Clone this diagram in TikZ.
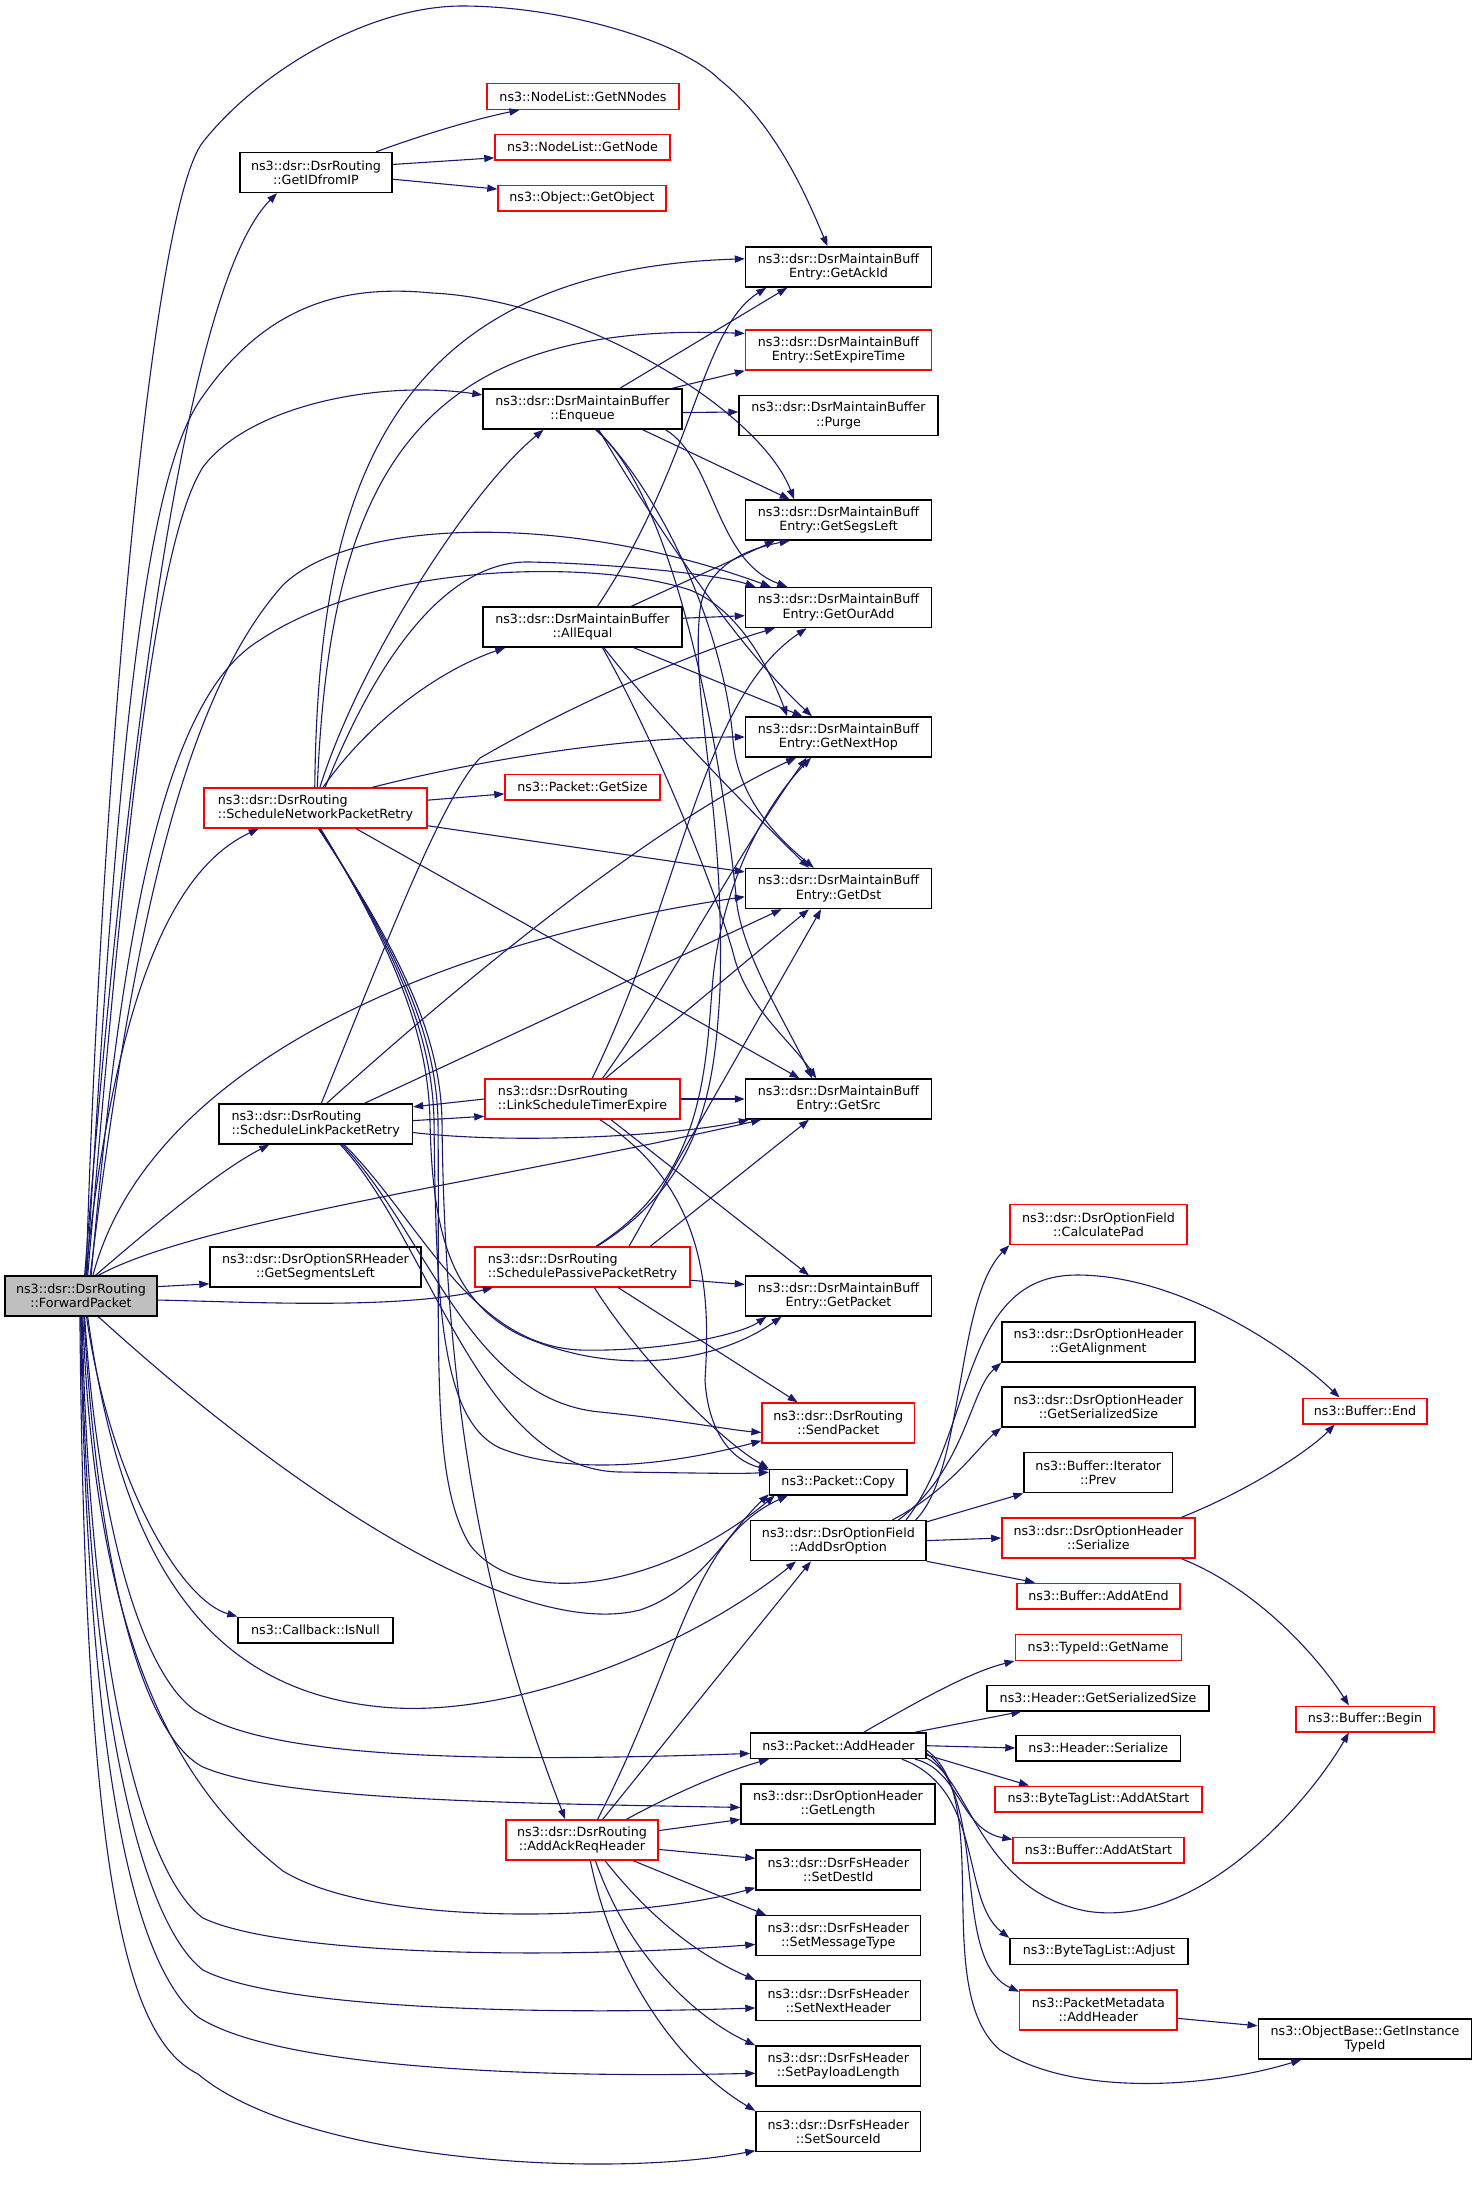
\documentclass[tikz,border=0pt]{standalone}
\usepackage{fontspec}
\setmainfont{DejaVu Sans}
\usetikzlibrary{arrows.meta}
\definecolor{callblue}{HTML}{191970}
\definecolor{rootgray}{HTML}{BFBFBF}
\definecolor{linkred}{HTML}{FF0000}
\tikzset{
  fn/.style={rectangle, draw=black, line width=0.7pt, inner sep=1pt, minimum height=20pt, align=center, font=\fontsize{6.35}{7.1}\selectfont},
  fnone/.style={fn, minimum height=12.8pt},
  fnred/.style={fn, draw=linkred},
  fnonered/.style={fnone, draw=linkred},
  fnroot/.style={fn, fill=rootgray},
  call/.style={draw=callblue, line width=0.55pt, -{Triangle[length=5pt,width=3.6pt]}}
}
\begin{document}
\begin{tikzpicture}[x=0.5pt,y=-0.5pt]
\path[use as bounding box, fill=white] (0,0) rectangle (1477,2186);

\node[fnroot, minimum width=76pt] (fwd) at (81,1296) {ns3::dsr::DsrRouting\\::ForwardPacket};
\node[fn, minimum width=76pt] (getid) at (316,172.5) {ns3::dsr::DsrRouting\\::GetIDfromIP};
\node[fnonered, minimum width=96pt] (getnnodes) at (583,96.5) {ns3::NodeList::GetNNodes};
\node[fnonered, minimum width=87.5pt] (getnode) at (582.5,147) {ns3::NodeList::GetNode};
\node[fnonered, minimum width=84pt] (getobject) at (582,198) {ns3::Object::GetObject};
\node[fn, minimum width=93pt] (getackid) at (838.5,267) {ns3::dsr::DsrMaintainBuff\\Entry::GetAckId};
\node[fnred, minimum width=93pt] (setexpire) at (838.5,350) {ns3::dsr::DsrMaintainBuff\\Entry::SetExpireTime};
\node[fn, minimum width=99.5pt] (enqueue) at (582.5,409) {ns3::dsr::DsrMaintainBuffer\\::Enqueue};
\node[fn, minimum width=99.5pt] (purge) at (838.5,415.5) {ns3::dsr::DsrMaintainBuffer\\::Purge};
\node[fn, minimum width=93pt] (getsegs) at (838.5,520) {ns3::dsr::DsrMaintainBuff\\Entry::GetSegsLeft};
\node[fn, minimum width=99.5pt] (allequal) at (582.5,627) {ns3::dsr::DsrMaintainBuffer\\::AllEqual};
\node[fn, minimum width=93pt] (getouradd) at (838.5,607.5) {ns3::dsr::DsrMaintainBuff\\Entry::GetOurAdd};
\node[fn, minimum width=93pt] (getnexthop) at (838.5,737) {ns3::dsr::DsrMaintainBuff\\Entry::GetNextHop};
\node[fnred, minimum width=111.5pt, align=left] (netretry) at (315.5,808) {ns3::dsr::DsrRouting\\::ScheduleNetworkPacketRetry};
\node[fnonered, minimum width=77.5pt] (getsize) at (582.5,787) {ns3::Packet::GetSize};
\node[fn, minimum width=93pt] (getdst) at (838.5,888.5) {ns3::dsr::DsrMaintainBuff\\Entry::GetDst};
\node[fnred, minimum width=97.5pt, align=left] (linkexpire) at (582.5,1099) {ns3::dsr::DsrRouting\\::LinkScheduleTimerExpire};
\node[fn, minimum width=96.75pt, align=left] (linkretry) at (315.7,1124) {ns3::dsr::DsrRouting\\::ScheduleLinkPacketRetry};
\node[fn, minimum width=93pt] (getsrc) at (838.5,1099) {ns3::dsr::DsrMaintainBuff\\Entry::GetSrc};
\node[fn, minimum width=105.5pt] (segleft) at (315.5,1267) {ns3::dsr::DsrOptionSRHeader\\::GetSegmentsLeft};
\node[fnred, minimum width=107.5pt, align=left] (passretry) at (582.5,1267) {ns3::dsr::DsrRouting\\::SchedulePassivePacketRetry};
\node[fn, minimum width=93pt] (getpacket) at (838.5,1296) {ns3::dsr::DsrMaintainBuff\\Entry::GetPacket};
\node[fnred, minimum width=88.5pt] (calcpad) at (1098.5,1224.5) {ns3::dsr::DsrOptionField\\::CalculatePad};
\node[fn, minimum width=96.5pt] (getalign) at (1098.5,1342) {ns3::dsr::DsrOptionHeader\\::GetAlignment};
\node[fn, minimum width=96.5pt] (getsersize) at (1098.5,1407) {ns3::dsr::DsrOptionHeader\\::GetSerializedSize};
\node[fnonered, minimum width=62pt] (bufend) at (1365,1411) {ns3::Buffer::End};
\node[fnred, minimum width=76.25pt] (sendpkt) at (838.3,1423) {ns3::dsr::DsrRouting\\::SendPacket};
\node[fnone, minimum width=68.75pt] (copy) at (838.3,1482) {ns3::Packet::Copy};
\node[fn, minimum width=74.3pt] (prev) at (1098.3,1472.7) {ns3::Buffer::Iterator\\::Prev};
\node[fn, minimum width=87.65pt] (adddsr) at (838.4,1540.6) {ns3::dsr::DsrOptionField\\::AddDsrOption};
\node[fnred, minimum width=96.5pt] (dsrser) at (1098.4,1538) {ns3::dsr::DsrOptionHeader\\::Serialize};
\node[fnonered, minimum width=81.5pt] (addatend) at (1098.5,1596) {ns3::Buffer::AddAtEnd};
\node[fnone, minimum width=77.5pt] (isnull) at (315.5,1630) {ns3::Callback::IsNull};
\node[fnonered, minimum width=83pt] (getname) at (1098.2,1647.5) {ns3::TypeId::GetName};
\node[fnone, minimum width=111pt] (hdrsersize) at (1098,1698) {ns3::Header::GetSerializedSize};
\node[fnonered, minimum width=69pt] (bufbegin) at (1365,1719) {ns3::Buffer::Begin};
\node[fnone, minimum width=87.65pt] (addheader) at (838.4,1745.7) {ns3::Packet::AddHeader};
\node[fnone, minimum width=82.3pt] (hdrser) at (1098.3,1748) {ns3::Header::Serialize};
\node[fn, minimum width=97pt] (getlength) at (838,1804) {ns3::dsr::DsrOptionHeader\\::GetLength};
\node[fnonered, minimum width=103.5pt] (tagaddstart) at (1098.5,1799) {ns3::ByteTagList::AddAtStart};
\node[fnred, minimum width=76pt] (ackreq) at (582,1840) {ns3::dsr::DsrRouting\\::AddAckReqHeader};
\node[fn, minimum width=82.3pt] (setdestid) at (838.3,1870) {ns3::dsr::DsrFsHeader\\::SetDestId};
\node[fnonered, minimum width=85.5pt] (bufaddstart) at (1098.5,1850) {ns3::Buffer::AddAtStart};
\node[fn, minimum width=82.3pt] (setmsgtype) at (838.3,1935.7) {ns3::dsr::DsrFsHeader\\::SetMessageType};
\node[fnone, minimum width=89pt] (tagadjust) at (1099,1951.4) {ns3::ByteTagList::Adjust};
\node[fn, minimum width=82.3pt] (setnexthdr) at (838.3,2000.7) {ns3::dsr::DsrFsHeader\\::SetNextHeader};
\node[fnred, minimum width=78.65pt] (pmaddheader) at (1098.4,2010) {ns3::PacketMetadata\\::AddHeader};
\node[fn, minimum width=106.75pt] (instancetype) at (1365,2039) {ns3::ObjectBase::GetInstance\\TypeId};
\node[fn, minimum width=82.3pt] (setpayload) at (838.3,2066) {ns3::dsr::DsrFsHeader\\::SetPayloadLength};
\node[fn, minimum width=82.3pt] (setsourceid) at (838.3,2131.5) {ns3::dsr::DsrFsHeader\\::SetSourceId};

\draw[call] (fwd.80) .. controls (130,700) and (190,280) .. (getid.208);
\draw[call] (fwd.76) .. controls (100,800) and (150,209) .. (203,142) .. controls (260,70) and (370,6) .. (462,6) .. controls (560,6) and (680,40) .. (720,80) .. controls (770,120) and (800,180) .. (getackid.118);
\draw[call] (fwd.72) .. controls (120,900) and (150,550) .. (203,467) .. controls (250,405) and (380,380) .. (enqueue.172);
\draw[call] (fwd.74) .. controls (115,800) and (140,480) .. (203,396) .. controls (270,300) and (350,285) .. (432,293) .. controls (580,300) and (760,410) .. (getsegs.155);
\draw[call] (fwd.66) .. controls (130,950) and (180,700) .. (283,585) .. controls (350,520) and (560,510) .. (getouradd.163);
\draw[call] (fwd.64) .. controls (120,950) and (160,700) .. (260,640) .. controls (380,560) and (600,560) .. (690,590) .. controls (740,610) and (770,670) .. (getnexthop.158);
\draw[call] (fwd.60) .. controls (150,1060) and (450,940) .. (getdst.185);
\draw[call] (fwd.50) .. controls (200,1220) and (500,1180) .. (getsrc.195);
\draw[call] (fwd.78) .. controls (115,1000) and (170,870) .. (netretry.200);
\draw[call] (fwd.55) .. controls (160,1220) and (220,1170) .. (linkretry.204);
\draw[call] (fwd.7) -- (segleft.189);
\draw[call] (fwd.-3) .. controls (250,1302) and (400,1310) .. (passretry.193);
\draw[call] (fwd.-50) .. controls (300,1500) and (520,1640) .. (640,1610) .. controls (700,1590) and (730,1530) .. (copy.190);
\draw[call] (fwd.-72) .. controls (120,1550) and (200,1690) .. (382,1707) .. controls (520,1720) and (700,1640) .. (adddsr.206);
\draw[call] (fwd.-75) .. controls (110,1480) and (180,1600) .. (isnull.north west);
\draw[call] (fwd.-80) .. controls (100,1550) and (150,1690) .. (203,1715) .. controls (280,1760) and (500,1762) .. (addheader.185);
\draw[call] (fwd.-82) .. controls (100,1600) and (150,1740) .. (203,1767) .. controls (280,1800) and (500,1803) .. (getlength.182);
\draw[call] (fwd.-85) .. controls (95,1650) and (180,1790) .. (283,1871) .. controls (380,1930) and (640,1920) .. (setdestid.192);
\draw[call] (fwd.-87) .. controls (90,1700) and (150,1880) .. (203,1918) .. controls (280,1955) and (550,1960) .. (setmsgtype.186);
\draw[call] (fwd.-89) .. controls (88,1750) and (150,1930) .. (203,1970) .. controls (280,2010) and (550,2015) .. (setnexthdr.185);
\draw[call] (fwd.-91) .. controls (88,1800) and (140,1970) .. (198,2017) .. controls (280,2070) and (550,2078) .. (setpayload.185);
\draw[call] (fwd.-93) .. controls (85,1900) and (130,2040) .. (198,2074) .. controls (300,2160) and (600,2180) .. (setsourceid.193);

\draw[call] (getid.19) .. controls (430,132) and (480,118) .. (getnnodes.192);
\draw[call] (getid.6) -- (getnode.187);
\draw[call] (getid.-5) -- (getobject.174);

\draw[call] (netretry.92) .. controls (318,500) and (380,270) .. (getackid.175);
\draw[call] (netretry.85) .. controls (330,470) and (420,320) .. (setexpire.170);
\draw[call] (netretry.78) .. controls (360,660) and (470,490) .. (enqueue.208);
\draw[call] (netretry.70) .. controls (370,720) and (440,670) .. (allequal.195);
\draw[call] (netretry.65) .. controls (380,650) and (450,560) .. (530,562) .. controls (620,564) and (720,575) .. (getouradd.166);
\draw[call] (netretry.20) .. controls (480,760) and (620,737) .. (getnexthop.west);
\draw[call] (netretry.4) -- (getsize.185);
\draw[call] (netretry.-9) -- (getdst.170);
\draw[call] (netretry.-27) -- (getsrc.152);
\draw[call] (netretry.-76) .. controls (400,960) and (428,1040) .. (430,1120) .. controls (432,1230) and (450,1300) .. (520,1335) .. controls (620,1380) and (720,1360) .. (getpacket.200);
\draw[call] (netretry.-78) .. controls (402,960) and (432,1040) .. (434,1120) .. controls (436,1300) and (440,1420) .. (500,1448) .. controls (580,1480) and (690,1460) .. (sendpkt.193);
\draw[call] (netretry.-80) .. controls (404,960) and (436,1040) .. (438,1120) .. controls (440,1350) and (430,1480) .. (470,1545) .. controls (520,1610) and (660,1590) .. (copy.192);
\draw[call] (netretry.-82) .. controls (406,960) and (440,1040) .. (442,1120) .. controls (445,1450) and (500,1650) .. (ackreq.129);

\draw[call] (linkretry.2) -- (linkexpire.190);
\draw[call] (linkretry.-5) .. controls (520,1145) and (680,1135) .. (getsrc.193);
\draw[call] (linkretry.23) -- (getdst.200);
\draw[call] (linkretry.62) .. controls (430,1010) and (640,830) .. (getnexthop.206);
\draw[call] (linkretry.75) .. controls (380,960) and (440,800) .. (480,758) .. controls (580,700) and (700,650) .. (getouradd.198);
\draw[call] (linkretry.-36) .. controls (420,1220) and (470,1345) .. (580,1350) .. controls (660,1352) and (740,1335) .. (getpacket.196);
\draw[call] (linkretry.-38) .. controls (425,1230) and (470,1400) .. (600,1412) .. controls (680,1420) and (730,1430) .. (sendpkt.187);
\draw[call] (linkretry.-40) .. controls (430,1240) and (480,1470) .. (620,1472) .. controls (700,1473) and (740,1474) .. (copy.172);

\draw[call] (linkexpire.180) -- (linkretry.10);
\draw[call] (linkexpire.east) -- (getsrc.west);
\draw[call] (linkexpire.42) -- (getdst.215);
\draw[call] (linkexpire.46) .. controls (660,1000) and (740,850) .. (getnexthop.213);
\draw[call] (linkexpire.65) .. controls (680,900) and (700,700) .. (getouradd.213);
\draw[call] (linkexpire.-36) -- (getpacket.145);
\draw[call] (linkexpire.-50) .. controls (710,1190) and (710,1300) .. (705,1380) .. controls (708,1430) and (730,1460) .. (copy.170);

\draw[call] (passretry.17) -- (getsrc.215);
\draw[call] (passretry.24) -- (getdst.230);
\draw[call] (passretry.57) .. controls (700,1180) and (705,1080) .. (712,990) .. controls (720,880) and (770,800) .. (getnexthop.217);
\draw[call] (passretry.55) .. controls (705,1180) and (715,1080) .. (720,990) .. controls (725,800) and (690,700) .. (700,610) .. controls (705,570) and (740,550) .. (getsegs.203);
\draw[call] (passretry.-7) -- (getpacket.173);
\draw[call] (passretry.-30) -- (sendpkt.153);
\draw[call] (passretry.-60) .. controls (640,1360) and (720,1440) .. (copy.north west);

\draw[call] (ackreq.53) .. controls (680,1660) and (690,1540) .. (copy.195);
\draw[call] (ackreq.45) -- (adddsr.217);
\draw[call] (ackreq.25) .. controls (680,1790) and (730,1770) .. (addheader.191);
\draw[call] (ackreq.7) -- (getlength.189);
\draw[call] (ackreq.-7) -- (setdestid.172);
\draw[call] (ackreq.-22) -- (setmsgtype.164);
\draw[call] (ackreq.-42) .. controls (660,1930) and (710,1960) .. (setnexthdr.166);
\draw[call] (ackreq.-57) .. controls (630,1960) and (700,2020) .. (setpayload.166);
\draw[call] (ackreq.-68) .. controls (610,1960) and (670,2060) .. (setsourceid.166);

\draw[call] (adddsr.15) .. controls (965,1470) and (955,1300) .. (calcpad.south west);
\draw[call] (adddsr.17) .. controls (975,1430) and (960,1275) .. (1077,1275) .. controls (1180,1275) and (1290,1350) .. (bufend.152);
\draw[call] (adddsr.19) .. controls (965,1470) and (970,1390) .. (getalign.south west);
\draw[call] (adddsr.21) .. controls (950,1490) and (980,1445) .. (getsersize.south west);
\draw[call] (adddsr.12) -- (prev.south west);
\draw[call] (adddsr.east) -- (dsrser.west);
\draw[call] (adddsr.south east) -- (addatend.168);

\draw[call] (dsrser.14) .. controls (1250,1490) and (1310,1450) .. (bufend.204);
\draw[call] (dsrser.-14) .. controls (1260,1590) and (1320,1660) .. (bufbegin.140);

\draw[call] (addheader.28) .. controls (920,1700) and (970,1672) .. (getname.south west);
\draw[call] (addheader.10) -- (hdrsersize.190);
\draw[call] (addheader.east) -- (hdrser.west);
\draw[call] (addheader.-6) -- (tagaddstart.169);
\draw[call] (addheader.-10) .. controls (960,1770) and (960,1830) .. (bufaddstart.173);
\draw[call] (addheader.-8) .. controls (970,1780) and (980,1890) .. (1086,1911) .. controls (1200,1930) and (1310,1800) .. (bufbegin.220);
\draw[call] (addheader.-12) .. controls (985,1790) and (960,1900) .. (tagadjust.north west);
\draw[call] (addheader.-5) .. controls (990,1800) and (950,1960) .. (pmaddheader.167);
\draw[call] (addheader.-3) .. controls (995,1800) and (930,1990) .. (1000,2050) .. controls (1080,2100) and (1220,2085) .. (instancetype.198);
\draw[call] (pmaddheader.-6) -- (instancetype.173);

\draw[call] (enqueue.29) -- (getackid.202);
\draw[call] (enqueue.13) -- (setexpire.south west);
\draw[call] (enqueue.-2) -- (purge.178);
\draw[call] (enqueue.-19) -- (getsegs.157);
\draw[call] (enqueue.-14) .. controls (715,460) and (715,560) .. (getouradd.158);
\draw[call] (enqueue.-52) .. controls (640,500) and (730,640) .. (getnexthop.142);
\draw[call] (enqueue.-55) .. controls (670,505) and (725,640) .. (733,740) .. controls (738,800) and (780,840) .. (getdst.140);
\draw[call] (enqueue.-58) .. controls (680,500) and (725,780) .. (737,905) .. controls (745,960) and (790,1030) .. (getsrc.142);

\draw[call] (allequal.54) .. controls (695,460) and (700,330) .. (getackid.196);
\draw[call] (allequal.23) -- (getsegs.198);
\draw[call] (allequal.5) -- (getouradd.185);
\draw[call] (allequal.-22) -- (getnexthop.150);
\draw[call] (allequal.-44) .. controls (660,720) and (760,820) .. (getdst.145);
\draw[call] (allequal.-46) .. controls (655,740) and (720,900) .. (735,960) .. controls (750,1010) and (790,1040) .. (getsrc.137);
\end{tikzpicture}
\end{document}
